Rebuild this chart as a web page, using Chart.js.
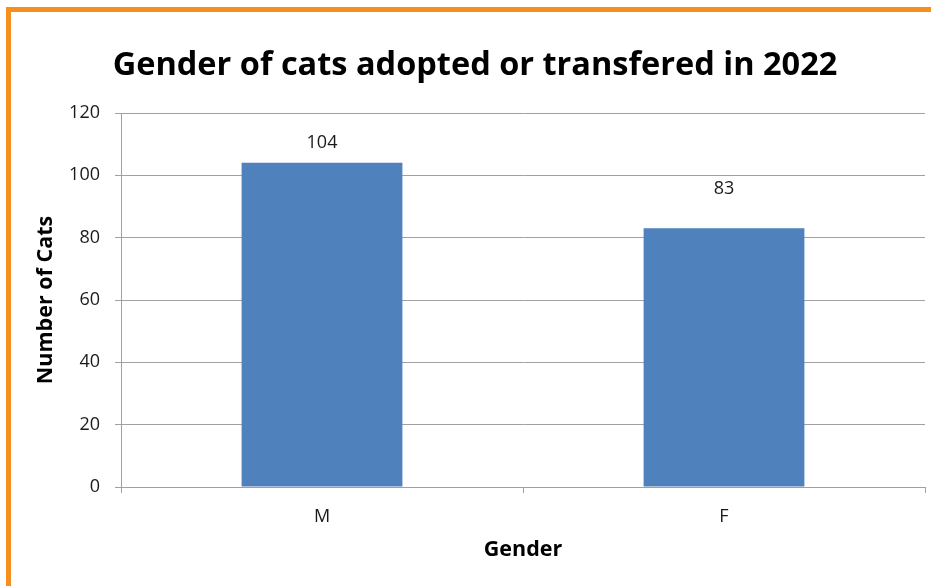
<!DOCTYPE html>
<html>
<head>
<meta charset="utf-8">
<script src="https://cdn.jsdelivr.net/npm/chart.js@4.4.0/dist/chart.umd.min.js"></script>
<style>
  html, body { margin: 0; padding: 0; background: #fff; overflow: hidden; }
  #frame {
    position: absolute; left: 6px; top: 7px; right: 0; bottom: 0;
    border-left: 5px solid #F5901F; border-top: 5px solid #F5901F;
  }
  #wrap { position: absolute; left: 0; top: 0; width: 931px; height: 586px; }
</style>
</head>
<body>
<div id="frame"></div>
<div id="wrap"><canvas id="chart"></canvas></div>
<script>
// chart data
const genders = ['M', 'F'];
const catCounts = [104, 83];
const yTicks = [0, 20, 40, 60, 80, 100, 120];

const chartTitle = 'Gender of cats adopted or transfered in 2022';
const xTitle = 'Gender';
const yTitle = 'Number of Cats';

const FONT = '"Open Sans", Lato, sans-serif';
const gridColor = '#A0A0A0';

// titles and value labels drawn on top of the chart
const textPlugin = {
    id: 'textPlugin',
    afterDraw(chart, args, opts) {
        const ctx = chart.ctx;
        const area = chart.chartArea;
        ctx.save();
        ctx.fillStyle = '#000';
        ctx.textAlign = 'center';
        ctx.textBaseline = 'middle';

        ctx.font = 'bold 32.5px ' + FONT;
        ctx.fillText(chartTitle, 475, 66);

        ctx.font = 'bold 21.5px ' + FONT;
        ctx.fillText(xTitle, (area.left + area.right) / 2, 550);

        ctx.save();
        ctx.translate(46, (area.top + area.bottom) / 2);
        ctx.rotate(-Math.PI / 2);
        ctx.fillText(yTitle, 0, 0);
        ctx.restore();

        // value labels above each bar
        ctx.font = '18px ' + FONT;
        ctx.fillStyle = '#1a1a1a';
        const meta = chart.getDatasetMeta(0);
        meta.data.forEach((bar, i) => {
            const lift = opts.lift[i] || 20;
            ctx.fillText(String(catCounts[i]), bar.x, bar.y - lift);
        });
        ctx.restore();
    }
};

const ctx = document.getElementById('chart').getContext('2d');
new Chart(ctx, {
    type: 'bar',
    data: {
        labels: genders,
        datasets: [{
            label: yTitle,
            data: catCounts,
            backgroundColor: '#4F81BD',
            borderWidth: 0,
            categoryPercentage: 1.0,
            barPercentage: 0.4
        }]
    },
    plugins: [textPlugin],
    options: {
        responsive: true,
        maintainAspectRatio: false,
        animation: false,
        layout: {
            padding: { left: 0, right: 6, top: 113, bottom: 0 }
        },
        plugins: {
            legend: { display: false },
            tooltip: { enabled: false },
            textPlugin: { lift: [20, 39] }
        },
        scales: {
            x: {
                offset: true,
                grid: {
                    offset: true,
                    drawOnChartArea: false,
                    drawTicks: true,
                    tickLength: 6,
                    color: gridColor
                },
                border: { color: gridColor, width: 1 },
                ticks: {
                    color: '#1a1a1a',
                    padding: 13,
                    font: { family: FONT, size: 18 }
                },
                afterFit(scale) { scale.height = 99; }
            },
            y: {
                min: 0,
                max: 120,
                afterBuildTicks(scale) {
                    scale.ticks = yTicks.map(v => ({ value: v }));
                },
                grid: {
                    color: gridColor,
                    tickLength: 6
                },
                border: { color: gridColor, width: 1 },
                ticks: {
                    color: '#1a1a1a',
                    padding: 15,
                    font: { family: FONT, size: 18 }
                },
                afterFit(scale) { scale.width = 121; }
            }
        }
    }
});
</script>
</body>
</html>
